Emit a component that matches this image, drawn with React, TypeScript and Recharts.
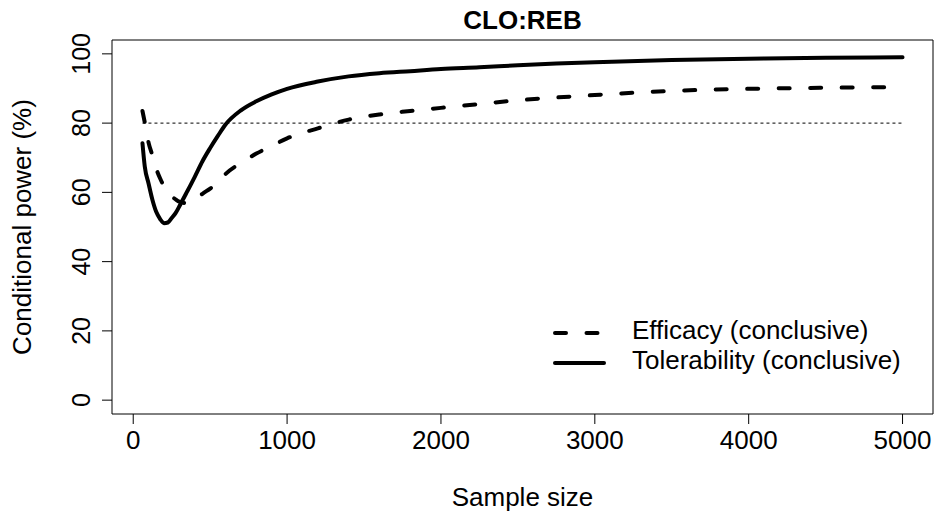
import { LineChart, Line, XAxis, YAxis, ReferenceLine, ReferenceArea } from 'recharts';

const FONT = '"Liberation Sans", Arial, Helvetica, sans-serif';

// values
const sampleSizes = [
  60, 75, 100, 125, 150, 175, 200, 225, 250, 275,
  300, 350, 400, 450, 500, 550, 600, 700, 800, 900,
  1000, 1200, 1400, 1600, 1800, 2000, 2250, 2500, 2750, 3000,
  3500, 4000, 4500, 5000,
];
const efficacy = [
  83.5, 80.2, 74.3, 70.6, 66.8, 64.0, 61.8, 60.2, 58.8, 58.0,
  57.3, 56.9, 57.9, 59.6, 61.1, 62.8, 65.3, 68.5, 71.2, 73.4,
  75.6, 78.5, 81.0, 82.5, 83.5, 84.4, 85.5, 86.6, 87.4, 88.1,
  89.3, 89.9, 90.2, 90.4,
];
const tolerability = [
  74.2, 67.5, 62.5, 57.8, 54.3, 52.3, 51.1, 51.3, 52.6, 54.0,
  56.0, 60.2, 64.5, 69.0, 72.8, 76.3, 79.6, 83.7, 86.3, 88.3,
  89.9, 92.0, 93.5, 94.4, 95.0, 95.6, 96.1, 96.7, 97.2, 97.6,
  98.2, 98.6, 98.9, 99.0,
];
const xTicks = [0, 1000, 2000, 3000, 4000, 5000];
const yTicks = [0, 20, 40, 60, 80, 100];
const target = 80;

const xDomain = [-138, 5198];
const yDomain = [-4, 104];

const DASH = '11 20.5';

const series = [
  { key: 'efficacy', name: 'Efficacy (conclusive)', dash: DASH },
  { key: 'tolerability', name: 'Tolerability (conclusive)', dash: undefined },
];

const data = sampleSizes.map((n, i) => ({ n, efficacy: efficacy[i], tolerability: tolerability[i] }));

function XTick(props: any) {
  const { x, y, payload } = props;
  return (
    <text x={x} y={y + 25} textAnchor="middle" fontFamily={FONT} fontSize={26} fill="#000">
      {payload.value}
    </text>
  );
}

function YTick(props: any) {
  const { x, y, payload } = props;
  return (
    <text transform={`translate(${x - 12},${y}) rotate(-90)`} textAnchor="middle" fontFamily={FONT} fontSize={25} fill="#000">
      {payload.value}
    </text>
  );
}

function LegendBox() {
  return (
    <svg width={380} height={70} style={{ display: 'block' }}>
      {series.map((s, i) => (
        <g key={s.key}>
          <line x1={10} x2={59} y1={23 + i * 30} y2={23 + i * 30} stroke="#000" strokeWidth={4}
            strokeDasharray={s.dash} strokeLinecap="round" />
          <text x={87} y={29 + i * 29.5} fontFamily={FONT} fontSize={26} fill="#000">{s.name}</text>
        </g>
      ))}
    </svg>
  );
}

export default function App() {
  return (
    <div style={{ position: 'absolute', left: 0, top: 0, width: 937, height: 517, background: '#fff' }}>
      <svg width={937} height={40} style={{ position: 'absolute', left: 0, top: 0 }}>
        <text x={522.5} y={28.5} textAnchor="middle" fontFamily={FONT} fontSize={26} fontWeight="bold" fill="#000">
          CLO:REB
        </text>
      </svg>
      <LineChart width={937} height={517} data={data} margin={{ top: 40, right: 4, bottom: 0, left: 0 }}>
        <XAxis dataKey="n" type="number" domain={xDomain} ticks={xTicks} allowDataOverflow
          height={103} tickSize={10} tickMargin={0} tick={<XTick />}
          axisLine={false} tickLine={{ stroke: '#000', strokeWidth: 1 }}
          label={{
            content: (p: any) => (
              <text x={p.viewBox.x + p.viewBox.width / 2} y={p.viewBox.y + 92} textAnchor="middle"
                fontFamily={FONT} fontSize={26} fill="#000">Sample size</text>
            ),
          }} />
        <YAxis type="number" domain={yDomain} ticks={yTicks} allowDataOverflow
          width={112} tickSize={10} tickMargin={0} tick={<YTick />}
          axisLine={false} tickLine={{ stroke: '#000', strokeWidth: 1 }}
          label={{
            content: (p: any) => (
              <text transform={`translate(31,${p.viewBox.y + p.viewBox.height / 2}) rotate(-90)`} textAnchor="middle"
                fontFamily={FONT} fontSize={26} fill="#000">Conditional power (%)</text>
            ),
          }} />
        <ReferenceArea x1={xDomain[0]} x2={xDomain[1]} y1={yDomain[0]} y2={yDomain[1]}
          fill="none" stroke="#000" strokeWidth={1} fillOpacity={0} />
        <ReferenceLine segment={[{ x: sampleSizes[0], y: target }, { x: sampleSizes[sampleSizes.length - 1], y: target }]}
          stroke="#000" strokeWidth={1} strokeDasharray="3 3" />
        {series.map((s) => (
          <Line key={s.key} dataKey={s.key} name={s.name} type="monotone" stroke="#000" strokeWidth={4}
            strokeDasharray={s.dash} strokeLinecap="round" strokeLinejoin="round"
            dot={false} activeDot={false} isAnimationActive={false} />
        ))}
      </LineChart>
      <div style={{ position: 'absolute', left: 545, top: 310 }}>
        <LegendBox />
      </div>
    </div>
  );
}
